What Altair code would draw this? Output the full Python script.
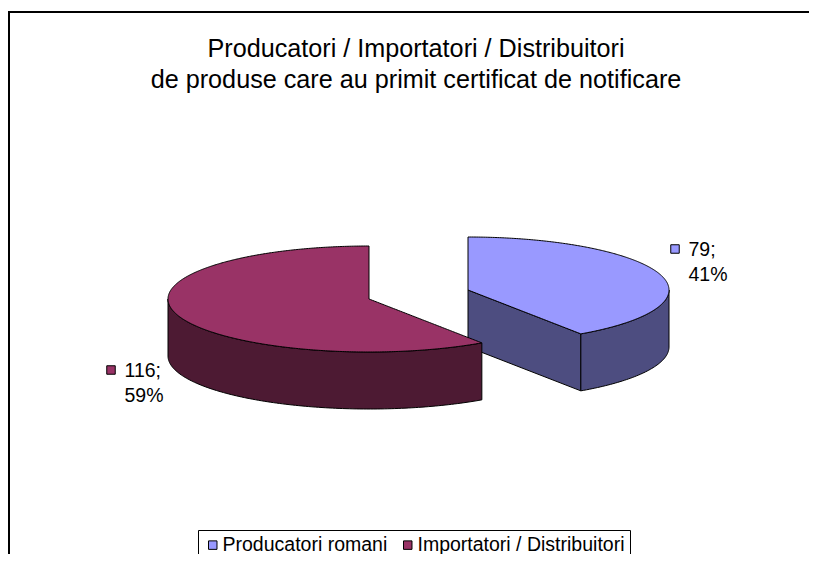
import math
import altair as alt
import pandas as pd

# ---------------- data ----------------
SERIES = ["Producatori romani", "Importatori / Distribuitori"]
COUNTS = [79, 116]
TOP_COLORS = ["#9999FF", "#993366"]
SIDE_COLORS = ["#4D4D80", "#4D1A33"]
TITLE_LINES = [
    "Producatori / Importatori / Distribuitori",
    "de produse care au primit certificat de notificare",
]

# ---------------- layout (plot units = px) ----------------
W, H = 801, 546
RX, RY, DEPTH = 201.0, 53.0, 57.0           # ellipse semi-axes and pie thickness
CENTERS = [(460.0, 282.0), (361.0, 291.0)]   # exploded slice centres
LABEL_KEYS = [(667.0, 241.0), (103.0, 362.0)]
TITLE_X, TITLE_Y0, TITLE_LH = 408.0, 49.0, 30.5
FONT = "Liberation Sans"
INK = "#000000"

XS = alt.Scale(domain=[0, W], nice=False, zero=False)
YS = alt.Scale(domain=[0, H], nice=False, zero=False, reverse=True)

total = sum(COUNTS)
bounds = []
acc = 0.0
for c in COUNTS:
    t0 = 360.0 * acc / total
    acc += c
    bounds.append((t0, 360.0 * acc / total))


def rim(cx, cy, t):
    r = math.radians(t)
    return cx + RX * math.sin(r), cy - RY * math.cos(r)


def v_at(u, t):
    r = math.radians(t)
    s = math.sin(r)
    if abs(s) < 1e-9:
        return -math.inf if abs(t - 180.0) < 1e-6 else math.inf
    return u * math.cos(r) / s


def vspan(u, t0, t1):
    s = math.sqrt(max(0.0, 1 - u * u))
    if u > 0:
        lo, hi = max(t0, 0.0), min(t1, 180.0)
    else:
        lo, hi = max(t0, 180.0), min(t1, 360.0)
    if hi - lo <= 1e-9:
        return None
    a, b = sorted([v_at(u, lo), v_at(u, hi)])
    a, b = max(a, -s), min(b, s)
    if a > b:
        return None
    return a, b


us = [math.sin(math.radians(a / 2.0)) for a in range(-180, 181)]
us += [math.sin(math.radians(t)) for bd in bounds for t in bd]
us = sorted(set(u for u in us if abs(u) > 1e-6)) + [-1e-5, 1e-5]
us = sorted(us)

top_rows, side_rows, cut_rows = [], [], []
for k, ((t0, t1), (cx, cy)) in enumerate(zip(bounds, CENTERS)):
    name = SERIES[k]
    # top face
    for u in us:
        sp = vspan(u, t0, t1)
        if sp is None:
            continue
        a, b = sp
        top_rows.append(dict(series=name, x=cx + RX * u, y=cy - RY * b, y2=cy - RY * a))
    # visible outer wall (front half 90..270)
    lo, hi = max(t0, 90.0), min(t1, 270.0)
    if hi > lo:
        n = max(2, int(math.ceil(hi - lo)))
        for j in range(n + 1):
            t = lo + (hi - lo) * j / n
            x, y = rim(cx, cy, t)
            side_rows.append(dict(series=name, x=x, y=y, y2=y + DEPTH))
    # visible cut faces
    for t, vis in ((t1, 0 < t1 < 180), (t0, 180 < t0 < 360)):
        if vis:
            px, py = rim(cx, cy, t)
            for (x, y) in ((cx, cy), (px, py)):
                cut_rows.append(dict(series=name, x=x, y=y, y2=y + DEPTH))

top_df = pd.DataFrame(top_rows)
side_df = pd.DataFrame(side_rows)
cut_df = pd.DataFrame(cut_rows)

legend = alt.Legend(
    title=None, orient="none", legendX=190, legendY=522, direction="horizontal",
    symbolType="square", symbolSize=72, symbolStrokeColor=INK, symbolStrokeWidth=1,
    symbolOpacity=1, labelFont=FONT, labelFontSize=19.5, labelColor=INK,
    labelOffset=0, labelLimit=600, columnPadding=10, padding=5,
    strokeColor=INK, fillColor="#FFFFFF",
)
color_enc = alt.Color("series:N", scale=alt.Scale(domain=SERIES, range=TOP_COLORS), legend=legend)


def pos():
    return dict(
        x=alt.X("x:Q", scale=XS, axis=None),
        y=alt.Y("y:Q", scale=YS, axis=None, stack=None),
        y2="y2:Q",
    )


def area(df, **kw):
    return alt.Chart(df).mark_area(stroke=INK, strokeWidth=1, interpolate="linear", opacity=1, **kw)


layers = []
for k, name in enumerate(SERIES):
    c = cut_df[cut_df.series == name] if len(cut_df) else cut_df
    s = side_df[side_df.series == name] if len(side_df) else side_df
    t = top_df[top_df.series == name]
    if len(c):
        layers.append(area(c, fill=SIDE_COLORS[k]).encode(**pos()))
    if len(s):
        layers.append(area(s, fill=SIDE_COLORS[k]).encode(**pos()))
    layers.append(area(t).encode(color=color_enc, **pos()))

# data labels
lab_rows, key_rows = [], []
for k, (c, (kx, ky)) in enumerate(zip(COUNTS, LABEL_KEYS)):
    pct = round(100.0 * c / total)
    key_rows.append(dict(x=kx, y=ky, fill=TOP_COLORS[k]))
    lab_rows.append(dict(x=kx + 13.5, y=ky + 6.5, text=f"{c};"))
    lab_rows.append(dict(x=kx + 13.5, y=ky + 31.5, text=f"{pct}%"))
key_df = pd.DataFrame(key_rows)
lab_df = pd.DataFrame(lab_rows)

keys = alt.Chart(key_df).mark_square(size=72, stroke=INK, strokeWidth=1, opacity=1, filled=True).encode(
    x=alt.X("x:Q", scale=XS, axis=None),
    y=alt.Y("y:Q", scale=YS, axis=None),
    fill=alt.Fill("fill:N", scale=None),
)
labels = alt.Chart(lab_df).mark_text(
    align="left", baseline="alphabetic", font=FONT, fontSize=19.5, color=INK
).encode(
    x=alt.X("x:Q", scale=XS, axis=None),
    y=alt.Y("y:Q", scale=YS, axis=None),
    text="text:N",
)

title_df = pd.DataFrame(
    [dict(x=TITLE_X, y=TITLE_Y0 + i * TITLE_LH, text=line) for i, line in enumerate(TITLE_LINES)]
)
title = alt.Chart(title_df).mark_text(
    align="center", baseline="alphabetic", font=FONT, fontSize=25.2, color=INK
).encode(
    x=alt.X("x:Q", scale=XS, axis=None),
    y=alt.Y("y:Q", scale=YS, axis=None),
    text="text:N",
)

frame_top = alt.Chart(title_df).mark_rule(stroke=INK, strokeWidth=2).encode(
    x=alt.value(0), x2=alt.value(W), y=alt.value(4)
)
frame_left = alt.Chart(title_df).mark_rule(stroke=INK, strokeWidth=2).encode(
    x=alt.value(1), y=alt.value(3), y2=alt.value(H)
)

chart = alt.layer(frame_top, frame_left, *layers, keys, labels, title).properties(
    width=W, height=H, padding=0, autosize=alt.AutoSizeParams(type="none"), background="#FFFFFF"
).configure_view(stroke=None)

chart.save("out.html", embed_options={"renderer": "svg", "actions": False})
